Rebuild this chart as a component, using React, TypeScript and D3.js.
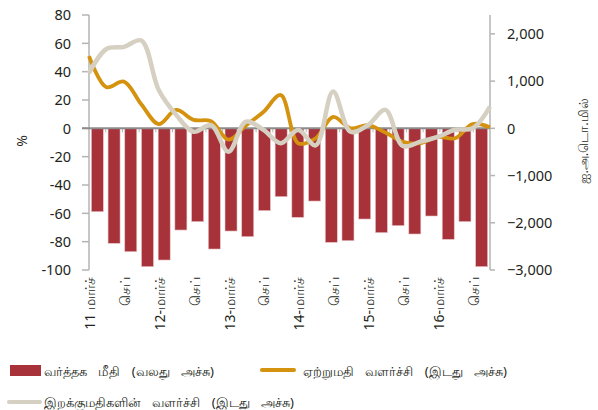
import React from "react";
import * as d3 from "d3";

const quarters = d3.range(24);
const xLabels = ["11 மார்ச்", "செப்", "12-மார்ச்", "செப்", "13-மார்ச்", "செப்", "14-மார்ச்", "செப்", "15-மார்ச்", "செப்", "16-மார்ச்", "செப்"];
const tradeBalance = [-1766, -2436, -2613, -2930, -2789, -2154, -1977, -2556, -2175, -2295, -1744, -1448, -1885, -1540, -2415, -2380, -1921, -2210, -2062, -2238, -1857, -2351, -1977, -2930];
const exportGrowth = [51, 29, 33, 17, 3, 13, 6, 5, -8, 2, 11.5, 23.5, -10.5, -7, 8, 0, 2.3, -3, -9.5, -10.5, -6, -7, 3, 0.7];
const importGrowth = [39, 56, 57.5, 62, 27, 9.5, -2.4, 2.3, -16.5, 4.7, -1, -10.5, -1.2, -12, 26, -2.4, 2.3, 13, -12.5, -9.4, -6, -1, 0, 15.3];
const leftTicks = [80, 60, 40, 20, 0, -20, -40, -60, -80, -100];
const rightTicks = [2000, 1000, 0, -1000, -2000, -3000];

const legendItems = [
  { label: "வர்த்தக மீதி (வலது அச்சு)" },
  { label: "ஏற்றுமதி வளர்ச்சி (இடது அச்சு)" },
  { label: "இறக்குமதிகளின் வளர்ச்சி (இடது அச்சு)" },
];

const RED = "#A8323A";
const ORANGE = "#D4920F";
const GRAY = "#D6D0C3";
const AXIS = "#B4B4B4";
const FONT = "'Noto Sans', 'Open Sans', sans-serif";

export default function App() {
  const x0 = 89, x1 = 490, yTop = 15, yBot = 270;
  const yL = d3.scaleLinear().domain([-100, 80]).range([yBot, yTop]);
  const yR = d3.scaleLinear().domain([-3000, 2400]).range([yBot, yTop]);
  const xb = d3.scaleBand<number>().domain(quarters).range([x0, x1]).paddingInner(0.28).paddingOuter(0.14);
  const xp = d3.scalePoint<number>().domain(quarters).range([x0, x1]);
  const step = (x1 - x0) / quarters.length;
  const line = (vals: number[]) =>
    d3.line<number>().x((_, i) => xp(i)!).y((v) => yL(v)).curve(d3.curveCatmullRom.alpha(0.5))(vals) || "";
  const fmt = d3.format(",");
  const y0 = yL(0);

  return (
    <svg width={598} height={410} style={{ position: "absolute", left: 0, top: 0, background: "#fff" }} fontFamily={FONT}>
      {/* bars */}
      {tradeBalance.map((v, i) => (
        <rect key={i} x={xb(i)} y={yR(0)} width={xb.bandwidth()} height={yR(v) - yR(0)} fill={RED} stroke="#E9C9CB" strokeWidth={0.6} />
      ))}
      {/* left axis */}
      <line x1={x0} x2={x0} y1={yTop} y2={yBot} stroke={AXIS} strokeWidth={1.5} />
      {leftTicks.map((t) => (
        <g key={t}>
          <line x1={x0 - 7} x2={x0} y1={yL(t)} y2={yL(t)} stroke={AXIS} strokeWidth={1.5} />
          <text x={71} y={yL(t)} dy="0.36em" textAnchor="end" fontSize={14.5} fill="#231F20">{t}</text>
        </g>
      ))}
      {/* right axis */}
      <line x1={x1} x2={x1} y1={yTop} y2={yBot} stroke={AXIS} strokeWidth={1.5} />
      {rightTicks.map((t) => (
        <g key={t}>
          <line x1={x1} x2={x1 + 5} y1={yR(t)} y2={yR(t)} stroke={AXIS} strokeWidth={1.5} />
          <text x={507} y={yR(t)} dy="0.36em" textAnchor="start" fontSize={14.5} fill="#231F20">{fmt(t)}</text>
        </g>
      ))}
      {/* zero line with category ticks */}
      {d3.range(1, quarters.length).map((k) => (
        <line key={k} x1={x0 + k * step} x2={x0 + k * step} y1={y0} y2={y0 + 4} stroke={AXIS} strokeWidth={1} />
      ))}
      <line x1={x0 - 7} x2={x1} y1={y0} y2={y0} stroke="#8C8C8C" strokeWidth={2} />
      {/* lines */}
      <path d={line(exportGrowth)} fill="none" stroke={ORANGE} strokeWidth={3.8} strokeLinejoin="round" />
      <path d={line(importGrowth)} fill="none" stroke={GRAY} strokeWidth={4.5} strokeLinejoin="round" />
      {/* x labels */}
      {xLabels.map((l, k) => (
        <text key={k} transform={`translate(${xp(2 * k)! + 1},277) rotate(-90)`} dy="0.36em" textAnchor="end" fontSize={14} fill="#231F20">{l}</text>
      ))}
      {/* axis titles */}
      <text transform="translate(22,141) rotate(-90)" dy="0.36em" textAnchor="middle" fontSize={14} fill="#231F20">%</text>
      <text transform="translate(583,141) rotate(-90)" dy="0.36em" textAnchor="middle" fontSize={12.5} fill="#231F20">ஐ.அ.டொ.மில்</text>
      {/* legend */}
      <rect x={10} y={365} width={31} height={11} fill={RED} />
      <text x={44} y={371} dy="0.36em" fontSize={13} wordSpacing={8} fill="#231F20">{legendItems[0].label}</text>
      <line x1={262} x2={294} y1={370} y2={370} stroke={ORANGE} strokeWidth={4} strokeLinecap="round" />
      <text x={303} y={371} dy="0.36em" fontSize={13} wordSpacing={8} fill="#231F20">{legendItems[1].label}</text>
      <line x1={9} x2={40} y1={402} y2={402} stroke={GRAY} strokeWidth={4} strokeLinecap="round" />
      <text x={44} y={402} dy="0.36em" fontSize={13} wordSpacing={8} fill="#231F20">{legendItems[2].label}</text>
    </svg>
  );
}
